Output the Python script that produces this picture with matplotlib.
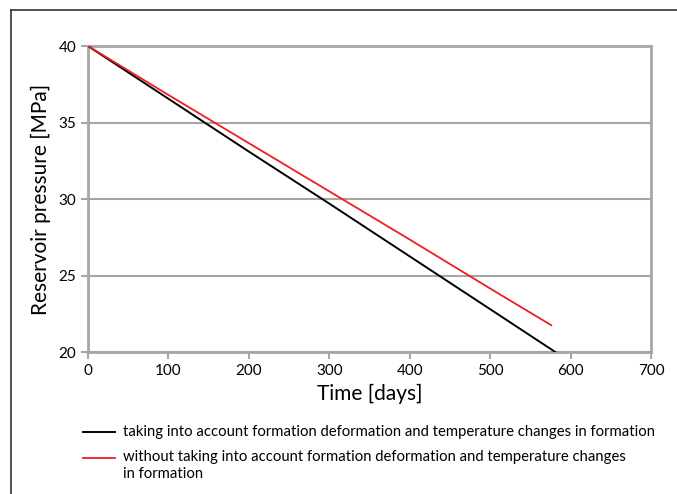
import numpy as np
import matplotlib
matplotlib.use('Agg')
from matplotlib import pyplot as plt
from matplotlib.lines import Line2D

days_with = [0, 100, 200, 300, 400, 500, 581]
pressure_with = [40.0, 36.55, 33.1, 29.7, 26.25, 22.8, 20.0]

days_without = [0, 100, 200, 300, 400, 500, 576]
pressure_without = [40.0, 36.8, 33.65, 30.5, 27.35, 24.15, 21.75]

x_ticks = [0, 100, 200, 300, 400, 500, 600, 700]
y_ticks = [20, 25, 30, 35, 40]

label_with = 'taking into account formation deformation and temperature changes in formation'
label_without = 'without taking into account formation deformation and temperature changes\nin formation'

plt.rcParams['font.family'] = ['Lato', 'DejaVu Sans']

W, H = 677, 494
fig = plt.figure(figsize=(W / 100, H / 100), dpi=100)
ax = fig.add_axes([88 / W, 1 - 352 / H, (651 - 88) / W, (352 - 46) / H])

grid_c = '#a6a6a6'
for y in y_ticks:
    ax.axhline(y, color=grid_c, lw=1.5, zorder=1)

ax.plot(days_with, pressure_with, color='black', lw=1.4, zorder=3)
ax.plot(days_without, pressure_without, color='#ee1c25', lw=1.3, zorder=3)

ax.set_xlim(0, 700)
ax.set_ylim(20, 40)
ax.set_xticks(x_ticks)
ax.set_yticks(y_ticks)
for s in ax.spines.values():
    s.set_color(grid_c)
    s.set_linewidth(2)
ax.tick_params(colors=grid_c, width=1.5, length=5, labelsize=11, labelcolor='black')

ax.set_xlabel('Time [days]', fontsize=15, labelpad=4)
ax.set_ylabel('Reservoir pressure [MPa]', fontsize=15, labelpad=5)

# legend below the plot
fig.add_artist(Line2D([83 / W, 115 / W], [1 - 432 / H] * 2, color='black', lw=1.4))
fig.add_artist(Line2D([83 / W, 115 / W], [1 - 458 / H] * 2, color='#ee1c25', lw=1.3))
fig.text(123 / W, 1 - 432 / H, label_with, fontsize=10.7, va='center')
fig.text(123 / W, 1 - 450 / H, label_without, fontsize=10.7, va='top', linespacing=1.3)

# outer frame, only top and left edges are visible
frame_kw = dict(color='#333333', lw=1.2)
fig.add_artist(Line2D([11 / W, 1.0], [1 - 10 / H] * 2, **frame_kw))
fig.add_artist(Line2D([11 / W] * 2, [0.0, 1 - 10 / H], **frame_kw))

plt.savefig('out.png', dpi=100)
plt.close()
